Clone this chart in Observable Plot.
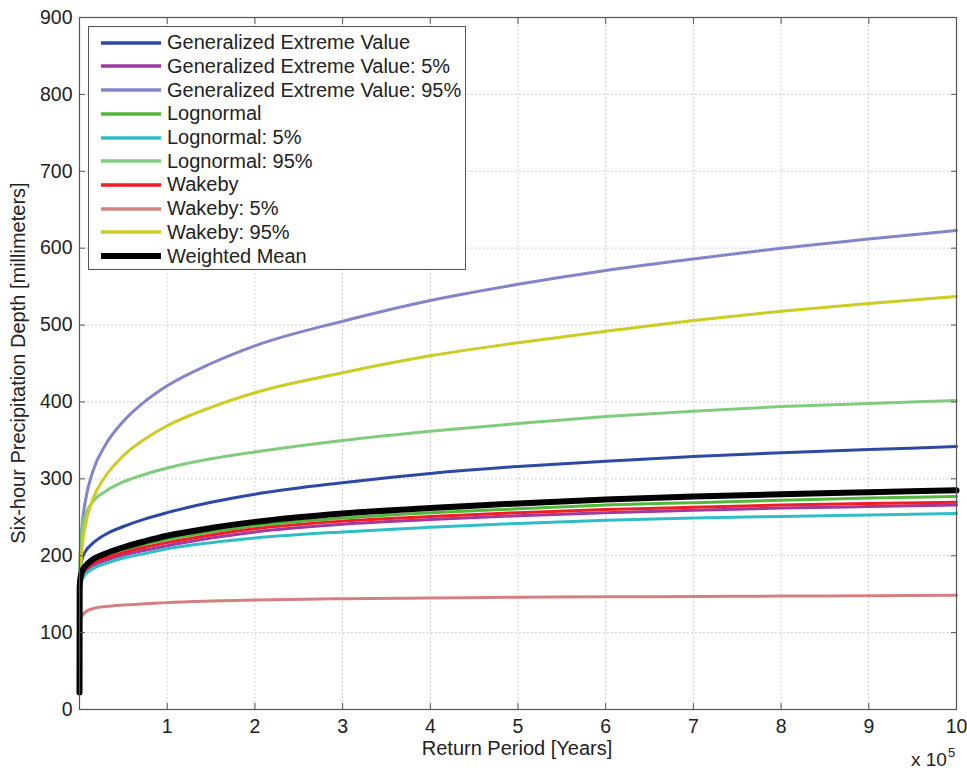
<!DOCTYPE html>
<html>
<head>
<meta charset="utf-8">
<script src="https://cdn.jsdelivr.net/npm/d3@7"></script>
<script src="https://cdn.jsdelivr.net/npm/@observablehq/plot@0.6"></script>
<style>
  body { margin: 0; background: #fff; }
  #wrap { position: relative; width: 967px; height: 770px; overflow: hidden; font-family: "Liberation Sans", Arial, sans-serif; color: #222; }
  #legend { position: absolute; left: 88px; top: 26px; width: 378px; height: 244px; border: 1px solid #555; background: #fff; box-sizing: border-box; }
  .row { position: absolute; left: 0; height: 24px; display: flex; align-items: center; white-space: nowrap; font-size: 20px; }
  .sw { width: 60px; margin-left: 12px; margin-right: 6px; }
  #ylab { position: absolute; left: 18px; top: 363px; transform: translate(-50%, -50%) rotate(-90deg); font-size: 20px; white-space: nowrap; }
  #xlab { position: absolute; left: 517px; top: 748px; transform: translate(-50%, -50%); font-size: 20px; white-space: nowrap; }
  #xexp { position: absolute; left: 911px; top: 750px; font-size: 19px; line-height: 19px; white-space: nowrap; }
  #xexp span { position: relative; top: -9px; font-size: 13px; margin-left: 1px; }
</style>
</head>
<body>
<div id="wrap">
  <div id="chart"></div>
  <div id="legend"></div>
  <div id="ylab">Six-hour Precipitation Depth [millimeters]</div>
  <div id="xlab">Return Period [Years]</div>
  <div id="xexp">x 10<span>5</span></div>
</div>
<script>
// Return period (x 10^5 years)
const returnPeriod = [0, 0.002, 0.01, 0.03, 0.07, 0.15, 0.3, 0.5, 0.75, 1, 1.5, 2, 3, 4, 5, 6, 7, 8, 9, 10];

const seriesNames = [
  "Generalized Extreme Value",
  "Generalized Extreme Value: 5%",
  "Generalized Extreme Value: 95%",
  "Lognormal",
  "Lognormal: 5%",
  "Lognormal: 95%",
  "Wakeby",
  "Wakeby: 5%",
  "Wakeby: 95%",
  "Weighted Mean"
];
const seriesColors = ["#2e48a6", "#a2399f", "#8484c8", "#52b83c", "#30bec6", "#80cc7c", "#f01c26", "#d48080", "#cccc22", "#000000"];

// Six-hour precipitation depth (mm)
const gev      = [22, 160, 182, 196, 206, 216, 228, 238, 248, 256, 269.5, 280, 295, 307, 316, 323, 329, 334, 338, 342];
const gev5     = [22, 156, 165, 173, 180, 187, 194, 201, 207, 213, 223, 231, 241, 247, 252, 256, 259, 262, 264, 266];
const gev95    = [22, 160, 203, 239, 273, 309, 345, 375, 401, 421, 450, 473, 505, 532, 553, 571, 586, 600, 612, 623];
const logn     = [22, 157, 168, 177, 184, 192, 200, 207, 215, 221, 231, 239, 249, 256, 261, 266, 269, 272, 275, 277];
const logn5    = [22, 155, 162, 169, 176, 183, 190, 197, 203, 209, 217, 223, 231, 237, 242, 246, 249, 251, 253, 255];
const logn95   = [22, 160, 205, 234, 253, 270, 284, 296, 306, 314, 326, 335, 350, 362, 372, 381, 388, 394, 398, 402];
const wakeby   = [22, 157, 167, 175, 182, 190, 197, 204, 211, 217, 227, 235, 245, 251, 256, 260, 263, 266, 268, 269.5];
const wakeby5  = [22, 110, 117, 122, 127, 131, 134, 136, 137.5, 139, 141, 142.5, 144, 145, 146, 146.5, 147, 147.5, 148, 148.5];
const wakeby95 = [22, 160, 178, 211, 241, 273, 304, 330, 352, 369, 393, 412, 438, 460, 477, 492, 506, 518, 528, 537];
const wmean    = [22, 158, 171, 180, 187, 195, 203, 211, 219, 226, 236, 244, 255, 262, 268, 273, 277, 280, 282.5, 285];

const seriesValues = [gev, gev5, gev95, logn, logn5, logn95, wakeby, wakeby5, wakeby95, wmean];

const xTicks = [1, 2, 3, 4, 5, 6, 7, 8, 9, 10];
const xTickMarks = [0, 1, 2, 3, 4, 5, 6, 7, 8, 9, 10];
const yTicks = [0, 100, 200, 300, 400, 500, 600, 700, 800, 900];

const rows = [];
seriesNames.forEach((name, i) => {
  if (i === 9) return;
  returnPeriod.forEach((x, j) => rows.push({series: name, x, y: seriesValues[i][j]}));
});
const meanRows = returnPeriod.map((x, j) => ({series: seriesNames[9], x, y: wmean[j]}));

const chart = Plot.plot({
  width: 967,
  height: 770,
  marginLeft: 79,
  marginRight: 11,
  marginTop: 17,
  marginBottom: 61,
  style: {fontFamily: "'Liberation Sans', Arial, sans-serif", fontSize: "19px", color: "#222", background: "#fff", overflow: "visible"},
  x: {domain: [0, 10]},
  y: {domain: [0, 900]},
  color: {type: "ordinal", domain: seriesNames, range: seriesColors},
  marks: [
    Plot.gridX(xTicks.slice(0, 9), {stroke: "#b4b4b4", strokeOpacity: 0.8, strokeDasharray: "1.5,2.5"}),
    Plot.gridY(yTicks.slice(1, 9), {stroke: "#b4b4b4", strokeOpacity: 0.8, strokeDasharray: "1.5,2.5"}),
    Plot.line(rows, {x: "x", y: "y", z: "series", stroke: "series", strokeWidth: 3, curve: "monotone-x"}),
    Plot.line(meanRows, {x: "x", y: "y", stroke: "series", strokeWidth: 6, curve: "monotone-x"}),
    Plot.frame({stroke: "#555", strokeWidth: 1.2}),
    Plot.axisX(xTickMarks, {anchor: "bottom", tickSize: -6, fill: "none", stroke: "#555", label: null}),
    Plot.axisX(xTickMarks, {anchor: "top", tickSize: -6, fill: "none", stroke: "#555", label: null}),
    Plot.axisY(yTicks, {anchor: "left", tickSize: -6, fill: "none", stroke: "#555", label: null}),
    Plot.axisY(yTicks, {anchor: "right", tickSize: -6, fill: "none", stroke: "#555", label: null}),
    Plot.axisX(xTicks, {anchor: "bottom", tickSize: 0, tickPadding: 10, fill: "#222", label: null, fontSize: 19.5}),
    Plot.axisY(yTicks, {anchor: "left", tickSize: 0, tickPadding: 7, fill: "#222", label: null, fontSize: 19.5})
  ]
});
document.getElementById("chart").appendChild(chart);

const legend = document.getElementById("legend");
seriesNames.forEach((name, i) => {
  const row = document.createElement("div");
  row.className = "row";
  row.style.top = (15.7 + 23.7 * i - 12) + "px";
  const w = i === 9 ? 6 : 3.5;
  row.innerHTML = `<svg class="sw" width="60" height="8"><line x1="0" x2="60" y1="4" y2="4" stroke="${seriesColors[i]}" stroke-width="${w}"/></svg><span>${name}</span>`;
  legend.appendChild(row);
});
</script>
</body>
</html>
